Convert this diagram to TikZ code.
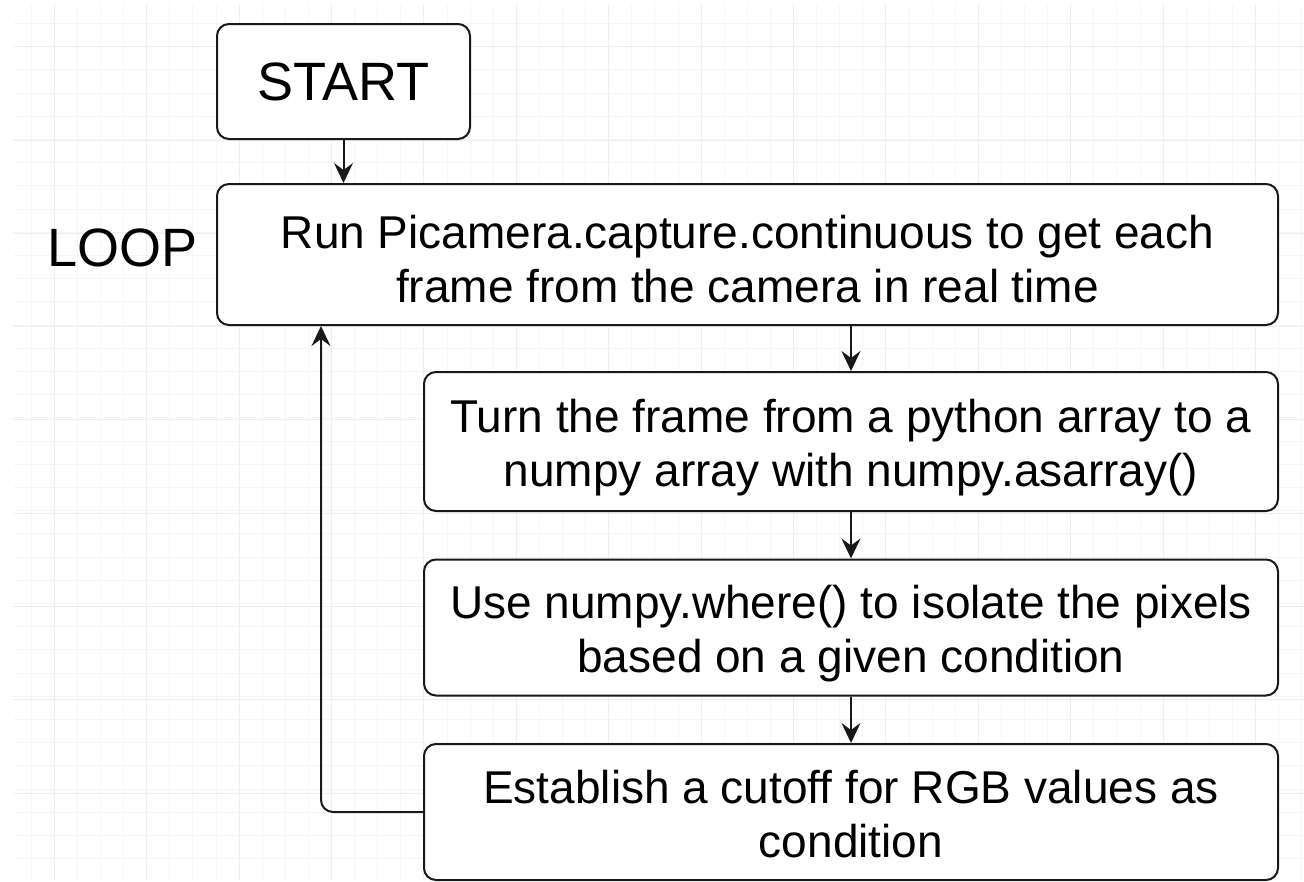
\documentclass[tikz,border=0pt]{standalone}
\usepackage{fontspec}
\setmainfont{Liberation Sans}
\usetikzlibrary{arrows.meta}
\tikzset{
  roundbox/.style={draw=black!90, line width=2pt, rounded corners=12pt, fill=white, inner sep=0pt},
  stepbox/.style={roundbox, align=center, font=\fontsize{46}{54}\selectfont, text height=#1, text depth=0pt},
  stepbox/.default=90pt,
  bigtext/.style={font=\fontsize{54}{65}\selectfont},
  flow/.style={draw=black!90, line width=2pt, -{Stealth[length=20pt,width=19pt,inset=7pt]}},
}

\begin{document}
\begin{tikzpicture}[x=1pt,y=-1pt]
\useasboundingbox (0,0) rectangle (1304,881);
\foreach \x in {31.2,54.3,...,1304} { \draw[gray!7,line width=1pt] (\x,4) -- (\x,881); }
\foreach \y in {23.5,46.7,...,881} { \draw[gray!7,line width=1pt] (13,\y) -- (1304,\y); }
\foreach \x in {54.3,146.7,...,1304} { \draw[gray!13,line width=1pt] (\x,4) -- (\x,881); }
\foreach \y in {46.7,140,...,881} { \draw[gray!13,line width=1pt] (13,\y) -- (1304,\y); }
\node[roundbox, bigtext, minimum width=253pt, minimum height=115pt] (start) at (343.5,81.5) {START};
\node[bigtext] (loop) at (122.5,248) {LOOP};
\node[stepbox=95pt, minimum width=1061pt, minimum height=141pt] (capture) at (747.5,254.5) {Run Picamera.capture.continuous to get each\\frame from the camera in real time};
\node[stepbox, minimum width=854pt, minimum height=139pt] (numpy) at (851,441.5) {Turn the frame from a python array to a\\numpy array with numpy.asarray()};
\node[stepbox, minimum width=854pt, minimum height=136pt] (where) at (851,627.5) {Use numpy.where() to isolate the pixels\\based on a given condition};
\node[stepbox, minimum width=854pt, minimum height=136pt] (cutoff) at (851,812) {Establish a cutoff for RGB values as\\condition};
\draw[flow] (start.south) -- (start.south |- capture.north);
\draw[flow] (capture.south -| numpy.north) -- (numpy.north);
\draw[flow] (numpy.south) -- (where.north);
\draw[flow] (where.south) -- (cutoff.north);
\coordinate (back) at ([xshift=105pt]capture.south west);
\draw[flow, rounded corners=12pt] (cutoff.west) -| (back);
\end{tikzpicture}
\end{document}
